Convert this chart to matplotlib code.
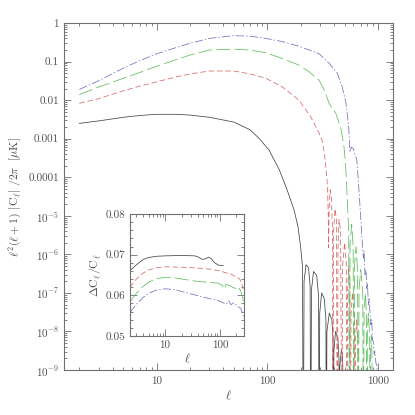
import numpy as np
import matplotlib
matplotlib.use("Agg")
import matplotlib.pyplot as plt
from matplotlib.ticker import LogLocator, FixedLocator, FixedFormatter, MultipleLocator, NullFormatter

plt.rcParams['font.family'] = 'serif'
plt.rcParams['font.serif'] = ['cmr10', 'DejaVu Serif']
plt.rcParams['mathtext.fontset'] = 'cm'
plt.rcParams['axes.formatter.use_mathtext'] = True
plt.rcParams['lines.scale_dashes'] = False

Z = 1e-12  # a zero crossing of C_l (|C_l| -> 0)

# ---------------- main panel data ----------------
ell_black = [2, 3, 5, 7, 10, 15, 20, 30, 50, 70, 85, 104, 128, 150, 175, 190, 200, 208, 212,
             215, 224, 236, 244, 247, 251, 262, 280, 291, 294, 298, 310, 328, 339, 342,
             346, 364, 384, 393, 396, 400, 414, 434, 445, 448, 452, 468, 478, 482, 484]
val_black = [0.0025, 0.0029, 0.0036, 0.0040, 0.0043, 0.0043, 0.0041, 0.0036, 0.0027, 0.0017, 0.0010,
             5e-4, 1.6e-4, 5e-5, 1.4e-5, 5e-6, 1.6e-6, 5e-7, Z,
             2e-7, 5.4e-7, 4.5e-7, 1.5e-7, Z, 1.2e-7, 3.6e-7, 2.8e-7, 8e-8, Z, 3e-8, 1e-7, 7e-8, 2e-8, Z,
             1e-8, 3e-8, 2e-8, 6e-9, Z, 3e-9, 1e-8, 7e-9, 2e-9, Z, 1.2e-9, 3.4e-9, 2.5e-9, 1.1e-9, Z]

ell_red = [2, 3, 5, 7, 10, 15, 20, 30, 50, 70, 97, 137, 194, 247, 294, 313, 328, 338, 350, 356, 358,
           362, 370, 380, 388, 392, 398, 410, 422, 430, 436, 445, 460, 473, 480, 500, 518, 525,
           532, 545, 558, 565, 572, 590, 612, 620, 628, 642, 660, 665]
val_red = [0.0083, 0.011, 0.0175, 0.023, 0.030, 0.040, 0.048, 0.057, 0.057, 0.048, 0.037, 0.022, 0.010,
           0.0037, 0.0014, 9e-4, 4.2e-4, 1.9e-4, 6e-5, 1e-5, 1.5e-6,
           1.5e-5, 4.7e-5, 3e-5, 5e-6, Z, 4e-6, 1.5e-5, 8e-6, Z, 1.5e-6, 8e-6, 4e-6, Z,
           5e-7, 2e-6, 6e-7, Z, 1e-7, 5e-7, 1.5e-7, Z, 3e-8, 1e-7, 3e-8, Z, 6e-9, 2e-8, 5e-9, Z]

ell_green = [2, 3, 5, 7, 10, 20, 30, 50, 69, 97, 137, 194, 238, 294, 328, 362, 416, 460, 490, 510,
             531, 545, 552, 560, 580, 598, 605, 615, 635, 655, 665, 675, 700, 730, 740, 750, 770,
             788, 795, 803, 820, 842, 850, 858, 872, 885, 890]
val_green = [0.014, 0.022, 0.037, 0.052, 0.076, 0.148, 0.20, 0.21, 0.20, 0.17, 0.12, 0.081, 0.055,
             0.033, 0.018, 0.0083, 0.0046, 0.002, 7.6e-4, 2.3e-4,
             2.1e-5, 4e-6, Z, 2e-6, 6e-6, 1.5e-6, Z, 5e-7, 1.6e-6, 4e-7, Z, 1.2e-7, 4e-7, 1e-7, Z,
             3e-8, 1e-7, 3e-8, Z, 1e-8, 3e-8, 8e-9, Z, 3e-9, 8e-9, 2e-9, Z]

ell_blue = [2, 3, 5, 7, 10, 20, 30, 49, 69, 97, 137, 194, 294, 362, 430, 476, 515, 545, 560, 575,
            600, 645, 665, 690, 720, 740, 750, 765, 780, 795, 805, 820, 835, 850, 865, 880, 895,
            910, 925, 940, 960, 980, 995, 1005]
val_blue = [0.019, 0.032, 0.068, 0.105, 0.16, 0.30, 0.40, 0.47, 0.46, 0.40, 0.33, 0.25, 0.16, 0.091,
            0.05, 0.022, 0.0083, 0.002, 4.5e-4, 6e-4, 5.5e-4, 2.8e-4, 8.5e-5, 1.7e-5, 2.4e-6,
            8e-7, 1.2e-6, 3e-7, 4e-7, 1.3e-7, 1.8e-7, 5e-8, 7e-8, 2.8e-8, 1.5e-8, 2e-8, 6e-9,
            5.5e-9, 2.5e-9, 3e-9, 1.5e-9, 1.3e-9, 5e-10, Z]

# ---------------- inset data ----------------
ell_in_black = [2.3, 3, 4, 5, 7, 10, 20, 35, 42, 48, 55, 62, 70, 80, 95, 115]
dc_black = [0.0661, 0.0675, 0.0688, 0.0693, 0.0696, 0.0697, 0.0698, 0.0697, 0.0693, 0.0688,
            0.0690, 0.0694, 0.0690, 0.0680, 0.0674, 0.0673]
ell_in_red = [2.3, 3, 4, 5, 7, 10, 20, 40, 70, 100, 130, 160, 200, 230, 250, 265]
dc_red = [0.0620, 0.0640, 0.0655, 0.0662, 0.0668, 0.0670, 0.0669, 0.0667, 0.0664, 0.0660,
          0.0655, 0.0652, 0.0645, 0.0640, 0.0630, 0.0615]
ell_in_green = [2.3, 3, 4, 5, 7, 10, 15, 25, 40, 60, 90, 110, 120, 130, 150, 170, 200, 220, 240, 260, 270]
dc_green = [0.0584, 0.0605, 0.0622, 0.0632, 0.0641, 0.0644, 0.0643, 0.0638, 0.0634, 0.0632, 0.0630,
            0.0625, 0.0616, 0.0627, 0.0624, 0.0620, 0.0616, 0.0620, 0.0610, 0.0595, 0.0580]
ell_in_blue = [2.3, 3, 4, 5, 7, 10, 15, 25, 40, 60, 90, 110, 130, 145, 160, 180, 210, 240, 260, 270]
dc_blue = [0.0558, 0.0578, 0.0595, 0.0605, 0.0613, 0.0616, 0.0614, 0.0606, 0.0599, 0.0593, 0.0588,
           0.0583, 0.0578, 0.0586, 0.0577, 0.0582, 0.0573, 0.0568, 0.0555, 0.0545]

main_yticks = [1, 0.1, 0.01, 0.001, 0.0001, 1e-5, 1e-6, 1e-7, 1e-8, 1e-9]
main_ylabels = ['1', '0.1', '0.01', '0.001', '0.0001', r'$10^{-5}$', r'$10^{-6}$',
                r'$10^{-7}$', r'$10^{-8}$', r'$10^{-9}$']
main_xticks = [10, 100, 1000]
main_xlabels = ['10', '100', '1000']
inset_yticks = [0.05, 0.06, 0.07, 0.08]
inset_ylabels = ['0.05', '0.06', '0.07', '0.08']
inset_xticks = [10, 100]
inset_xlabels = ['10', '100']

TXT = '#505050'
SP = '#707070'
C_BLACK = '#444444'
C_RED = '#d86868'
C_GREEN = '#5cbc5c'
C_BLUE = '#7070bc'
LW = 0.55

fig = plt.figure(figsize=(4.15, 4.15), dpi=100)
ax = fig.add_axes([0.154, 0.1084, 0.793, 0.836])


def style_axis(a, fs):
    for s in a.spines.values():
        s.set_color(SP)
        s.set_linewidth(0.8)
    a.tick_params(which='both', direction='in', top=True, right=True, colors=SP,
                  labelcolor=TXT, labelsize=fs, width=0.6)
    a.tick_params(which='major', length=5)
    a.tick_params(which='minor', length=2.5)


ax.plot(ell_black, val_black, color=C_BLACK, lw=LW)
ax.plot(ell_red, val_red, color=C_RED, lw=LW, dashes=(4, 2))
ax.plot(ell_green, val_green, color=C_GREEN, lw=LW, dashes=(10, 3))
ax.plot(ell_blue, val_blue, color=C_BLUE, lw=LW, dashes=(6, 1.5, 1, 1.5))
ax.set_xscale('log')
ax.set_yscale('log')
ax.set_xlim(1.45, 1370)
ax.set_ylim(1e-9, 1)
ax.xaxis.set_major_locator(FixedLocator(main_xticks))
ax.xaxis.set_major_formatter(FixedFormatter(main_xlabels))
ax.xaxis.set_minor_locator(LogLocator(base=10, subs=np.arange(2, 10)))
ax.xaxis.set_minor_formatter(NullFormatter())
ax.yaxis.set_major_locator(FixedLocator(main_yticks))
ax.yaxis.set_major_formatter(FixedFormatter(main_ylabels))
ax.yaxis.set_minor_locator(LogLocator(base=10, subs=np.arange(2, 10), numticks=20))
ax.yaxis.set_minor_formatter(NullFormatter())
style_axis(ax, 8)
ax.tick_params(axis='x', pad=5)
ax.set_xlabel(r'$\ell$', color=TXT, fontsize=9, labelpad=2)
ax.set_ylabel(r'$\ell^2(\ell+1)\ |{\rm C}_\ell|\ /2\pi\ \ [\mu{\rm K}]$', color=TXT, fontsize=8.5, labelpad=3)

ins = fig.add_axes([0.3133, 0.1904, 0.2747, 0.294])
ins.plot(ell_in_black, dc_black, color=C_BLACK, lw=LW)
ins.plot(ell_in_red, dc_red, color=C_RED, lw=LW, dashes=(4, 2))
ins.plot(ell_in_green, dc_green, color=C_GREEN, lw=LW, dashes=(10, 3))
ins.plot(ell_in_blue, dc_blue, color=C_BLUE, lw=LW, dashes=(6, 1.5, 1, 1.5))
ins.set_xscale('log')
ins.set_xlim(2.3, 275)
ins.set_ylim(0.05, 0.08)
ins.xaxis.set_major_locator(FixedLocator(inset_xticks))
ins.xaxis.set_major_formatter(FixedFormatter(inset_xlabels))
ins.xaxis.set_minor_locator(LogLocator(base=10, subs=np.arange(2, 10)))
ins.xaxis.set_minor_formatter(NullFormatter())
ins.yaxis.set_major_locator(FixedLocator(inset_yticks))
ins.yaxis.set_major_formatter(FixedFormatter(inset_ylabels))
ins.yaxis.set_minor_locator(MultipleLocator(0.002))
style_axis(ins, 8)
ins.set_xlabel(r'$\ell$', color=TXT, fontsize=9, labelpad=1)
ins.set_ylabel(r'$\Delta{\rm C}_\ell/{\rm C}_\ell$', color=TXT, fontsize=8.5, labelpad=2)

fig.savefig('out.png', dpi=100)
